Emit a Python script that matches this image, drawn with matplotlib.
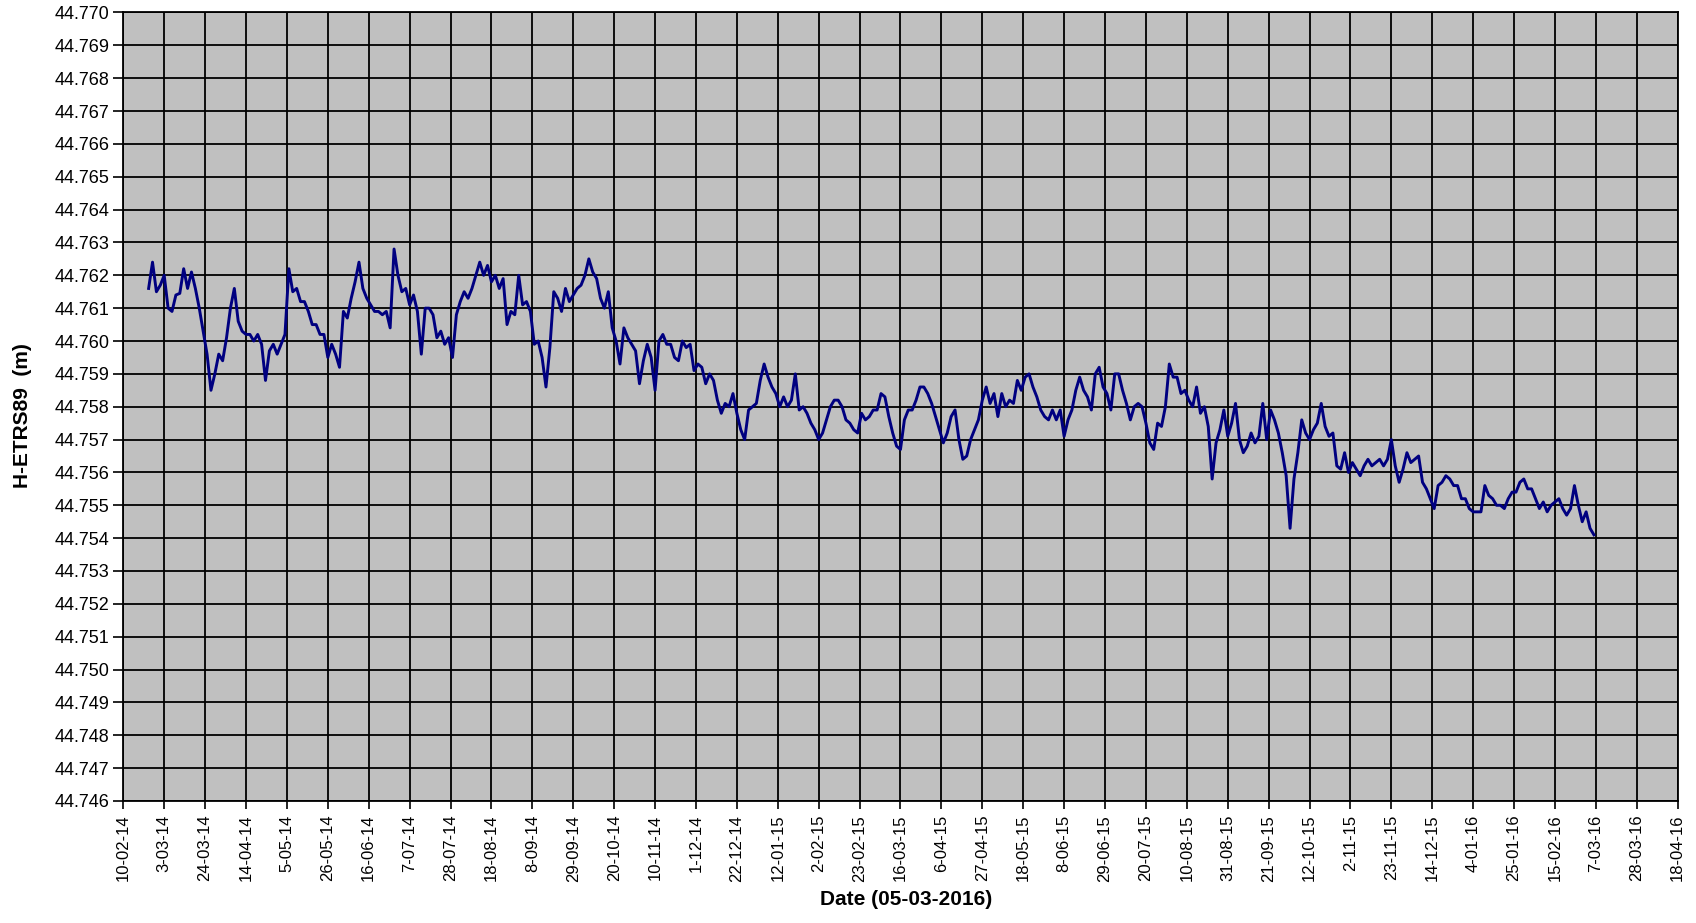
import matplotlib
matplotlib.use("Agg")
import matplotlib.pyplot as plt
import matplotlib.dates as mdates
import matplotlib.ticker as mticker
import numpy as np
import pandas as pd

plt.rcParams['font.family'] = ['Liberation Sans', 'DejaVu Sans']

# height readings, mm above 44.750 m, one every 2 days from 23-02-2014
base_m = 44.750
first_day = "2014-02-23"
step_days = 2
h_mm = [
    11.6, 12.4, 11.5, 11.7, 12.0, 11.0, 10.9, 11.4, 11.45, 12.2,
    11.6, 12.1, 11.6, 11.0, 10.3, 9.6, 8.5, 9.0, 9.6, 9.4,
    10.1, 11.0, 11.6, 10.6, 10.3, 10.2, 10.2, 10.0, 10.2, 9.9,
    8.8, 9.7, 9.9, 9.6, 9.9, 10.2, 12.2, 11.5, 11.6, 11.2,
    11.2, 10.9, 10.5, 10.5, 10.2, 10.2, 9.5, 9.9, 9.6, 9.2,
    10.9, 10.7, 11.3, 11.8, 12.4, 11.6, 11.3, 11.1, 10.9, 10.9,
    10.8, 10.9, 10.4, 12.8, 12.0, 11.5, 11.6, 11.1, 11.4, 10.9,
    9.6, 11.0, 11.0, 10.8, 10.1, 10.3, 9.9, 10.1, 9.5, 10.8,
    11.2, 11.5, 11.3, 11.6, 12.0, 12.4, 12.0, 12.3, 11.8, 12.0,
    11.6, 11.9, 10.5, 10.9, 10.8, 12.0, 11.1, 11.2, 10.9, 9.9,
    10.0, 9.5, 8.6,
    9.8, 11.5, 11.3, 10.9, 11.6, 11.2, 11.4, 11.6, 11.7, 12.0,
    12.5, 12.1, 11.9, 11.3, 11.0, 11.5, 10.4, 10.0, 9.3, 10.4,
    10.1, 9.9, 9.7, 8.7, 9.4, 9.9, 9.5, 8.5, 10.0, 10.2,
    9.9, 9.9, 9.5, 9.4, 10.0, 9.8, 9.9, 9.1, 9.3, 9.2,
    8.7, 9.0, 8.8, 8.2, 7.8, 8.1, 8.0, 8.4, 7.8, 7.3,
    7.0, 7.9, 8.0, 8.1, 8.8, 9.3, 8.9, 8.6, 8.4, 8.0,
    8.3, 8.0, 8.2, 9.0, 7.9, 8.0, 7.8, 7.5, 7.3, 7.0,
    7.2, 7.6, 8.0, 8.2, 8.2, 8.0, 7.6, 7.5, 7.3, 7.2,
    7.8, 7.6, 7.7, 7.9, 7.9, 8.4, 8.3, 7.7, 7.2, 6.8,
    6.7, 7.6, 7.9, 7.9, 8.2, 8.6, 8.6, 8.4, 8.1, 7.7,
    7.3, 6.9, 7.2,
    7.7, 7.9, 7.0, 6.4, 6.5, 7.0, 7.3, 7.6, 8.2, 8.6,
    8.1, 8.4, 7.7, 8.4, 8.0, 8.2, 8.1, 8.8, 8.5, 8.9,
    9.0, 8.6, 8.3, 7.9, 7.7, 7.6, 7.9, 7.6, 7.9, 7.1,
    7.6, 7.9, 8.5, 8.9, 8.5, 8.3, 7.9, 9.0, 9.2, 8.6,
    8.4, 7.9, 9.0, 9.0, 8.5, 8.1, 7.6, 8.0, 8.1, 8.0,
    7.5, 6.9, 6.7, 7.5, 7.4, 8.0, 9.3, 8.9, 8.9, 8.4,
    8.5, 8.2, 8.0, 8.6, 7.8, 8.0, 7.4, 5.8, 6.9, 7.3,
    7.9, 7.1, 7.5, 8.1, 7.0, 6.6, 6.8, 7.2, 6.9, 7.1,
    8.1, 7.0, 7.9, 7.6, 7.2, 6.6, 5.9, 4.3, 5.8, 6.6,
    7.6, 7.2, 7.0, 7.3, 7.5, 8.1, 7.4, 7.1, 7.2, 6.2,
    6.1, 6.6, 6.0, 6.3, 6.1, 5.9, 6.2, 6.4, 6.2, 6.3,
    6.4, 6.2, 6.4, 7.0, 6.2, 5.7, 6.1, 6.6, 6.3, 6.4,
    6.5, 5.7, 5.5, 5.2, 4.9, 5.6, 5.7, 5.9, 5.8, 5.6,
    5.6, 5.2, 5.2, 4.9, 4.8, 4.8, 4.8, 5.6, 5.3, 5.2,
    5.0, 5.0, 4.9, 5.2, 5.4, 5.4, 5.7, 5.8, 5.5, 5.5,
    5.2, 4.9, 5.1, 4.8, 5.0, 5.1, 5.2, 4.9, 4.7,
    4.9, 5.6, 5.0, 4.5, 4.8, 4.3, 4.1,
]

x_start = "2014-02-10"
x_end = "2016-04-18"
tick_step = "21D"
y_min, y_max, y_step = 44.746, 44.770, 0.001

dates = pd.date_range(first_day, periods=len(h_mm), freq=f"{step_days}D")
heights = base_m + np.array(h_mm) / 1000.0

fig = plt.figure(figsize=(16.96, 9.23), dpi=100)
ax = fig.add_axes([0.0727, 0.1322, 0.9165, 0.8543])
ax.set_facecolor("#C0C0C0")

ax.plot(dates, heights, color="#000080", linewidth=2.1)

ticks = pd.date_range(x_start, x_end, freq=tick_step)
ax.set_xlim(ticks[0], ticks[-1])
ax.set_xticks(ticks)
ax.xaxis.set_major_formatter(
    mticker.FuncFormatter(lambda v, p: (lambda d: f"{d.day}-{d:%m-%y}")(mdates.num2date(v)))
)
ax.set_ylim(y_min, y_max)
ax.set_yticks(np.arange(y_min, y_max + y_step / 2, y_step))
ax.yaxis.set_major_formatter(mticker.FormatStrFormatter("%.3f"))

ax.grid(True, color="black", linewidth=1.3)
ax.set_axisbelow(True)
for s in ax.spines.values():
    s.set_color("black")
    s.set_linewidth(1.3)

ax.tick_params(axis="x", labelrotation=90, labelsize=12, length=6, width=1.2, pad=4)
ax.tick_params(axis="y", labelsize=13, length=7, width=1.2, pad=3)

fig.text(0.534, 0.026, "Date (05-03-2016)", ha="center", va="center",
         fontsize=15, fontweight="bold")
fig.text(0.013, 0.55, "H-ETRS89  (m)", ha="center", va="center",
         rotation=90, fontsize=15, fontweight="bold")

fig.savefig("out.png", dpi=100)
